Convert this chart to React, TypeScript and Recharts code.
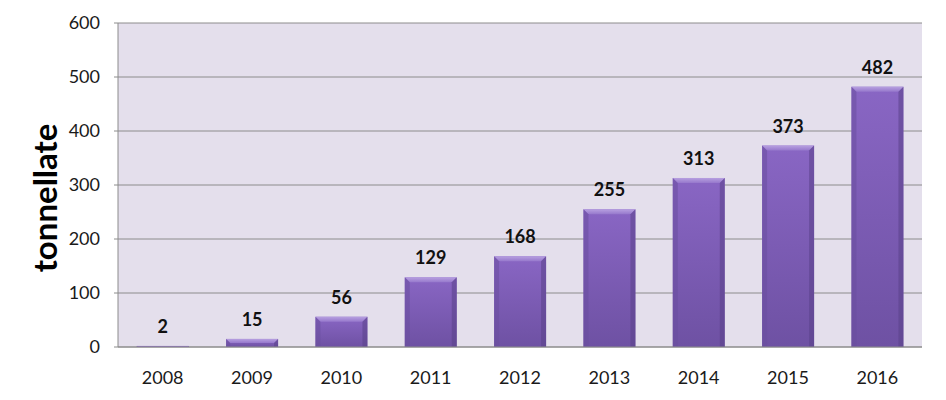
import { BarChart, Bar, XAxis, YAxis, CartesianGrid, LabelList } from 'recharts';

const years = ['2008', '2009', '2010', '2011', '2012', '2013', '2014', '2015', '2016'];
const tonnes = [2, 15, 56, 129, 168, 255, 313, 373, 482];
const yTicks = [0, 100, 200, 300, 400, 500, 600];

const data = years.map((year, i) => ({ year, value: tonnes[i] }));

const FONT = 'Lato, "Open Sans", "DejaVu Sans", sans-serif';

function BevelBar(props: any) {
  const { x, y, width, height } = props;
  if (!height || height <= 0) {
    return <rect x={x} y={y - 1} width={width} height={1.5} fill="#b9a9d6" />;
  }
  const b = Math.min(5, height / 2);
  return (
    <g>
      <rect x={x} y={y} width={width} height={height} fill="url(#barFill)" />
      <polygon
        points={`${x},${y} ${x + width},${y} ${x + width - b},${y + b} ${x + b},${y + b}`}
        fill="url(#barTop)"
      />
      <polygon
        points={`${x},${y} ${x + b},${y + b} ${x + b},${y + height} ${x},${y + height}`}
        fill="#6a4f9e"
        opacity={0.55}
      />
      <polygon
        points={`${x + width},${y} ${x + width - b},${y + b} ${x + width - b},${y + height} ${x + width},${y + height}`}
        fill="#5a4288"
        opacity={0.55}
      />
    </g>
  );
}

// y axis title, drawn beside the axis
function AxisTitle() {
  return (
    <text
      x={57}
      y={198}
      transform="rotate(-90 57 198)"
      textAnchor="middle"
      fontSize={33}
      fontWeight={700}
      fill="#000"
      fontFamily={FONT}
    >
      tonnellate
    </text>
  );
}

export default function App() {
  return (
    <div style={{ position: 'fixed', left: 0, top: 0, width: 946, height: 400, background: '#fff' }}>
      <BarChart
        width={946}
        height={400}
        data={data}
        margin={{ top: 23, right: 24, left: 0, bottom: 0 }}
        barCategoryGap="21%"
      >
        <defs>
          <linearGradient id="barFill" x1="0" y1="0" x2="0" y2="1">
            <stop offset="0%" stopColor="#8966c4" />
            <stop offset="100%" stopColor="#6e51a3" />
          </linearGradient>
          <linearGradient id="barTop" x1="0" y1="0" x2="0" y2="1">
            <stop offset="0%" stopColor="#b7a0e0" />
            <stop offset="100%" stopColor="#9678cc" />
          </linearGradient>
        </defs>
        <CartesianGrid vertical={false} fill="#e4dfec" stroke="#8c8c8c" strokeWidth={1} />
        <XAxis
          dataKey="year"
          height={53}
          tickLine={false}
          axisLine={{ stroke: '#8c8c8c' }}
          tickMargin={18}
          tick={{ fill: '#1a1a1a', fontSize: 18, fontFamily: FONT }}
        />
        <YAxis
          width={118}
          domain={[0, 600]}
          ticks={yTicks}
          interval={0}
          tickSize={4}
          tickMargin={14}
          axisLine={{ stroke: '#8c8c8c' }}
          tickLine={{ stroke: '#8c8c8c' }}
          tick={{ fill: '#1a1a1a', fontSize: 18, fontFamily: FONT }}
          label={{ content: () => <AxisTitle /> }}
        />
        <Bar dataKey="value" isAnimationActive={false} shape={<BevelBar />}>
          <LabelList
            dataKey="value"
            position="top"
            offset={13}
            style={{ fontSize: 18, fontWeight: 700, fill: '#111', fontFamily: FONT }}
          />
        </Bar>
      </BarChart>
    </div>
  );
}
